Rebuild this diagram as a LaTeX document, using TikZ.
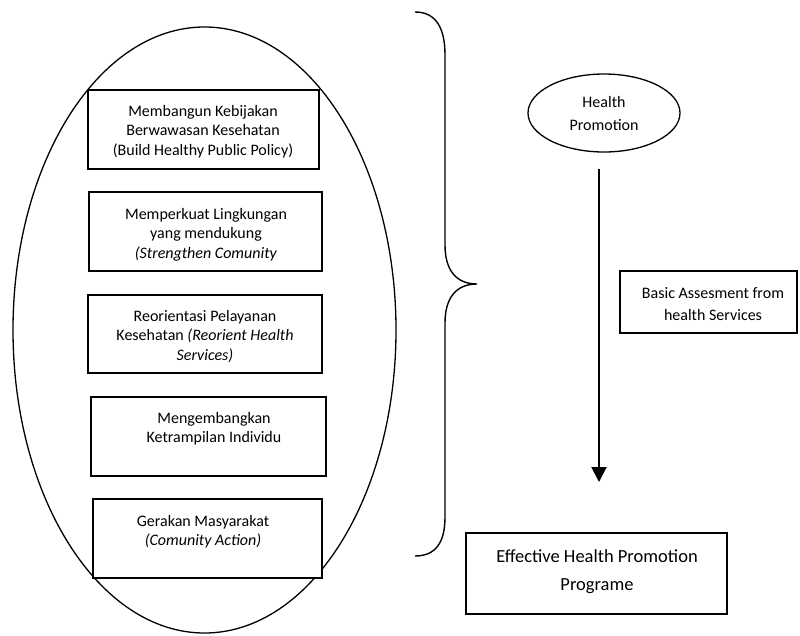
\documentclass[tikz,border=0pt]{standalone}
\usepackage{fontspec}
\setmainfont{Carlito}
\usetikzlibrary{arrows.meta,shapes.geometric}
\begin{document}
\begin{tikzpicture}[x=1pt,y=-1pt,
  box/.style={draw,line width=1.5pt,fill=white,inner sep=0pt},
  txt/.style={align=center,inner sep=0pt,font=\fontsize{16}{19.5}\selectfont,anchor=north},
  oval/.style={draw,ellipse,line width=1.3pt,inner sep=0pt},
  arr/.style={line width=2pt,-{Triangle[length=15pt,width=15pt]}}]
\useasboundingbox (0,0) rectangle (800,635);
% big ellipse
\node[oval,minimum width=383,minimum height=606] (big) at (204.5,330) {};
% boxes
\node[box,minimum width=231,minimum height=79] (b1) at (203.5,129.5) {};
\node[box,minimum width=233,minimum height=79] (b2) at (205.5,231.5) {};
\node[box,minimum width=234,minimum height=78] (b3) at (205,334) {};
\node[box,minimum width=235,minimum height=79] (b4) at (208.5,436.5) {};
\node[box,minimum width=229,minimum height=79] (b5) at (207.5,538.5) {};
\node[txt] (t1) at (203,105) {Membangun Kebijakan\\Berwawasan Kesehatan\\(Build Healthy Public Policy)};
\node[txt] (t2) at (206,208) {Memperkuat Lingkungan\\yang mendukung\\\textit{(Strengthen Comunity}};
\node[txt] (t3) at (205,310) {Reorientasi Pelayanan\\Kesehatan \textit{(Reorient Health}\\\textit{Services)}};
\node[txt] (t4) at (214,412) {Mengembangkan\\Ketrampilan Individu};
\node[txt] (t5) at (203,515) {Gerakan Masyarakat\\\textit{(Comunity Action)}};
% brace
\draw[line width=1.4pt] (415,12) .. controls (436,12) and (445,28) .. (445,55) -- (445,245)
  .. controls (445,270) and (456,284) .. (477,284)
  .. controls (456,284) and (445,298) .. (445,323) -- (445,517)
  .. controls (445,542) and (436,556) .. (415,556);
% right side
\node[oval,minimum width=152,minimum height=78] (hp) at (604,113) {};
\node[txt,anchor=center,font=\fontsize{16}{23}\selectfont] (hpt) at (604,114) {Health\\Promotion};
\node[box,minimum width=177,minimum height=62] (basic) at (708.5,302) {};
\node[txt,anchor=center,font=\fontsize{16}{22}\selectfont] (basict) at (713,304.5) {Basic Assesment from\\health Services};
\node[box,minimum width=261,minimum height=81] (eff) at (596.5,573.5) {};
\node[txt,anchor=center,font=\fontsize{18.5}{28}\selectfont] (efft) at (597,572) {Effective Health Promotion\\Programe};
\coordinate (a1) at (599,169);
\coordinate (a2) at (599,482);
\draw[arr] (a1) -- (a2);
\end{tikzpicture}
\end{document}
